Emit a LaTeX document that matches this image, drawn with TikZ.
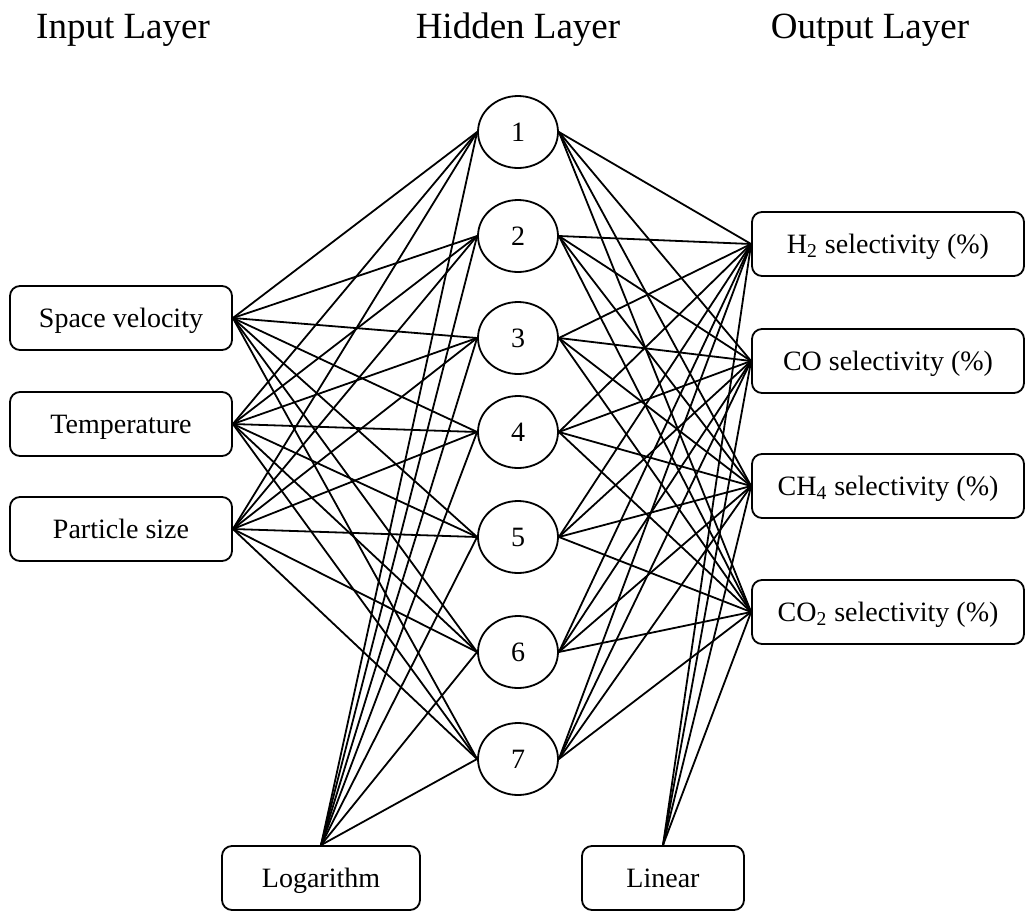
\documentclass[tikz,border=0pt]{standalone}
\usepackage{fontspec}
\setmainfont{Liberation Serif}
\usetikzlibrary{shapes.geometric}

\tikzset{
  box/.style={draw,rounded corners=5pt,line width=0.9pt,minimum height=32pt,
              inner sep=0pt,text height=2ex,text depth=0pt,
              font=\fontsize{14}{16}\selectfont},
  neuron/.style={draw,ellipse,line width=0.9pt,minimum width=40pt,
                 minimum height=36pt,inner sep=0pt,text height=2ex,text depth=0pt,
                 font=\fontsize{14}{16}\selectfont},
  layer/.style={font=\fontsize{18.5}{22}\selectfont},
  link/.style={line width=0.9pt}
}

\begin{document}
\begin{tikzpicture}[x=0.5pt,y=-0.5pt]

  \useasboundingbox (0,0) rectangle (1025,911);

  % layer titles
  \node [layer] (tin)  at (123,30) {Input Layer};
  \node [layer] (thid) at (518,30) {Hidden Layer};
  \node [layer] (tout) at (870,30) {Output Layer};

  % input layer
  \node [box,minimum width=111pt] (sv) at (121,318) {Space velocity};
  \node [box,minimum width=111pt] (tp) at (121,424) {Temperature};
  \node [box,minimum width=111pt] (ps) at (121,529) {Particle size};

  % hidden layer
  \foreach \n/\y in {1/132,2/236,3/338,4/432,5/537,6/652,7/759}
    \node [neuron] (h\n) at (518,\y) {\n};

  % output layer
  \node [box,minimum width=136pt] (oh)  at (888,244) {H\textsubscript{2} selectivity (\%)};
  \node [box,minimum width=136pt] (oco) at (888,361) {CO selectivity (\%)};
  \node [box,minimum width=136pt] (och) at (888,486) {CH\textsubscript{4} selectivity (\%)};
  \node [box,minimum width=136pt] (oct) at (888,612) {CO\textsubscript{2} selectivity (\%)};

  % transfer functions
  \node [box,minimum width=99pt] (log) at (321,878) {Logarithm};
  \node [box,minimum width=81pt] (lin) at (663,878) {Linear};

  % connections
  \foreach \i in {sv,tp,ps}
    \foreach \j in {1,...,7}
      \draw [link] (\i.east) -- (h\j.west);

  \foreach \j in {1,...,7}
    \draw [link] (log.north) -- (h\j.west);

  \foreach \j in {1,...,7}
    \foreach \k in {oh,oco,och,oct}
      \draw [link] (h\j.east) -- (\k.west);

  \foreach \k in {oh,oco,och,oct}
    \draw [link] (lin.north) -- (\k.west);

\end{tikzpicture}
\end{document}
